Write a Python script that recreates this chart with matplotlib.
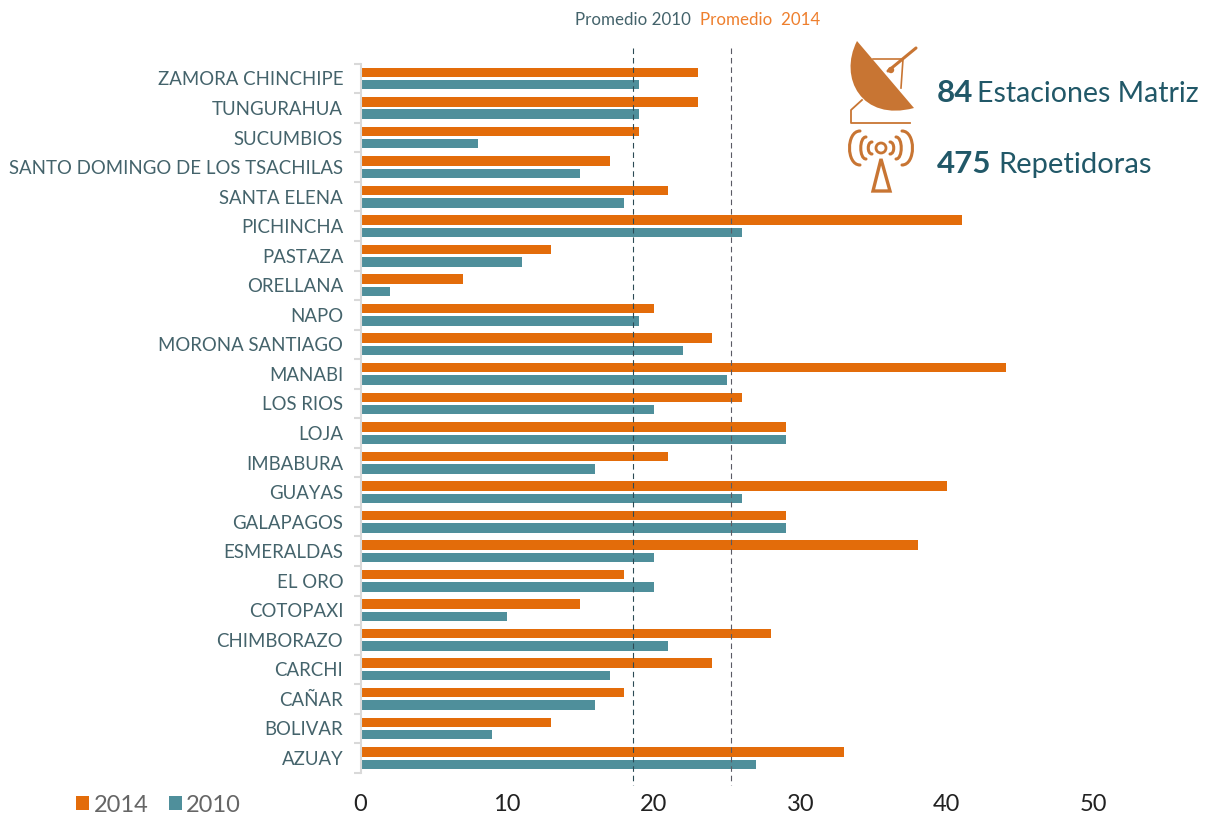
import matplotlib
matplotlib.use("Agg")
import matplotlib.pyplot as plt
import numpy as np
from matplotlib.patches import PathPatch, Polygon, Circle
from matplotlib.path import Path

plt.rcParams['font.family'] = ['Lato', 'DejaVu Sans']

# bottom to top, same order as the chart's y axis
provinces = ["AZUAY", "BOLIVAR", "CAÑAR", "CARCHI", "CHIMBORAZO", "COTOPAXI", "EL ORO",
             "ESMERALDAS", "GALAPAGOS", "GUAYAS", "IMBABURA", "LOJA", "LOS RIOS", "MANABI",
             "MORONA SANTIAGO", "NAPO", "ORELLANA", "PASTAZA", "PICHINCHA", "SANTA ELENA",
             "SANTO DOMINGO DE LOS TSACHILAS", "SUCUMBIOS", "TUNGURAHUA", "ZAMORA CHINCHIPE"]
values_2014 = [33, 13, 18, 24, 28, 15, 18, 38, 29, 40, 21, 29, 26, 44, 24, 20, 7, 13, 41, 21, 17, 19, 23, 23]
values_2010 = [27, 9, 16, 17, 21, 10, 20, 20, 29, 26, 16, 29, 20, 25, 22, 19, 2, 11, 26, 18, 15, 8, 19, 19]
promedio_2010 = 18.6
promedio_2014 = 25.3
x_ticks = [0, 10, 20, 30, 40, 50]

ORANGE = "#E36C0A"
TEAL = "#4F8F9B"
LABEL = "#44636B"
DARK_TEAL = "#215868"
ICON = "#C87533"
W, H = 1211, 816

fig = plt.figure(figsize=(W / 100, H / 100), dpi=100)
ax = fig.add_axes([360.5 / W, 1 - 772.8 / H, 733 / W, 709.1 / H])

y = np.arange(len(provinces))
ax.barh(y + 0.21, values_2014, height=0.32, color=ORANGE, label="2014")
ax.barh(y - 0.21, values_2010, height=0.32, color=TEAL, label="2010")

ax.set_xlim(0, 50)
ax.set_ylim(-0.5, len(provinces) - 0.5)
ax.set_xticks(x_ticks)
ax.set_yticks(y)
ax.set_yticklabels(provinces, fontsize=13.4, color=LABEL)
ax.set_yticks(np.arange(len(provinces) + 1) - 0.5, minor=True)
ax.tick_params(axis="y", which="major", length=0, pad=12.5)
ax.tick_params(axis="y", which="minor", length=5, width=1.5, color="#D9D9D9")
ax.tick_params(axis="x", length=0, pad=15, labelsize=17, labelcolor="#222222")

for s in ["top", "right", "bottom"]:
    ax.spines[s].set_visible(False)
ax.spines["left"].set_color("#D9D9D9")
ax.spines["left"].set_linewidth(1.5)

# average lines run past the plot area
ax.plot([promedio_2010] * 2, [24.04, -0.9], color="#2B4A55", lw=0.8, ls=(0, (5, 3.5)), clip_on=False)
ax.plot([promedio_2014] * 2, [24.04, -0.9], color="#5A5A64", lw=0.8, ls=(0, (5, 3.5)), clip_on=False)

fig.legend(loc="center left", bbox_to_anchor=(76 / W, 1 - 805 / H), ncol=2, frameon=False,
           fontsize=17, labelcolor="#666666", handlelength=0.55, handleheight=0.55,
           handletextpad=0.2, columnspacing=0.85, borderpad=0, borderaxespad=0)

# overlay in pixel coordinates for the header text and the icons
ov = fig.add_axes([0, 0, 1, 1], zorder=5)
ov.set_xlim(0, W)
ov.set_ylim(H, 0)
ov.axis("off")

ov.text(691, 20, "Promedio 2010", ha="right", va="center", fontsize=12.2, color=LABEL)
ov.text(700, 20, "Promedio  2014", ha="left", va="center", fontsize=12.2, color="#EE7F2D")

ov.text(937, 102, "84", ha="left", va="baseline", fontsize=22.5, fontweight="bold", color=DARK_TEAL)
ov.text(977, 102, "Estaciones Matriz", ha="left", va="baseline", fontsize=20.5, color=DARK_TEAL)
ov.text(937, 173, "475", ha="left", va="baseline", fontsize=22.5, fontweight="bold", color=DARK_TEAL)
ov.text(998, 173, "Repetidoras", ha="left", va="baseline", fontsize=21, color=DARK_TEAL)

# satellite dish
dish = Path([(857, 41), (838, 78), (862, 122), (914, 108), (857, 41)],
            [Path.MOVETO, Path.CURVE4, Path.CURVE4, Path.CURVE4, Path.CLOSEPOLY])
ov.add_patch(PathPatch(dish, fc=ICON, ec="none"))
ov.plot([888, 916], [71, 48], color=ICON, lw=2.2, solid_capstyle="round")
ov.plot([873, 903], [59, 59], color=ICON, lw=1.2)
ov.plot([903, 901], [59, 88], color=ICON, lw=1.2)
ov.add_patch(Circle((891, 70), 3.2, fc=ICON, ec="none"))
ov.plot([862, 851, 851, 910], [100, 110, 123, 123], color=ICON, lw=1.3)

# antenna, three brackets on each side of the centre ring
cx, cy = 881, 148
ov.add_patch(Circle((cx, cy), 5, fc="none", ec=ICON, lw=2))
curve = [Path.MOVETO, Path.CURVE4, Path.CURVE4, Path.CURVE4]
for tip, ctrl, half in [(21, 35, 17), (15, 22, 11), (9, 14, 6)]:
    for side in (-1, 1):
        bracket = Path([(cx + side * tip, cy - half), (cx + side * ctrl, cy - half),
                        (cx + side * ctrl, cy + half), (cx + side * tip, cy + half)], curve)
        ov.add_patch(PathPatch(bracket, fc="none", ec=ICON, lw=2.2, capstyle="round"))
ov.add_patch(Polygon([(881, 159), (873, 191), (890, 191)], closed=True, fc="none", ec=ICON, lw=2.4))

fig.savefig("out.png", dpi=100)
